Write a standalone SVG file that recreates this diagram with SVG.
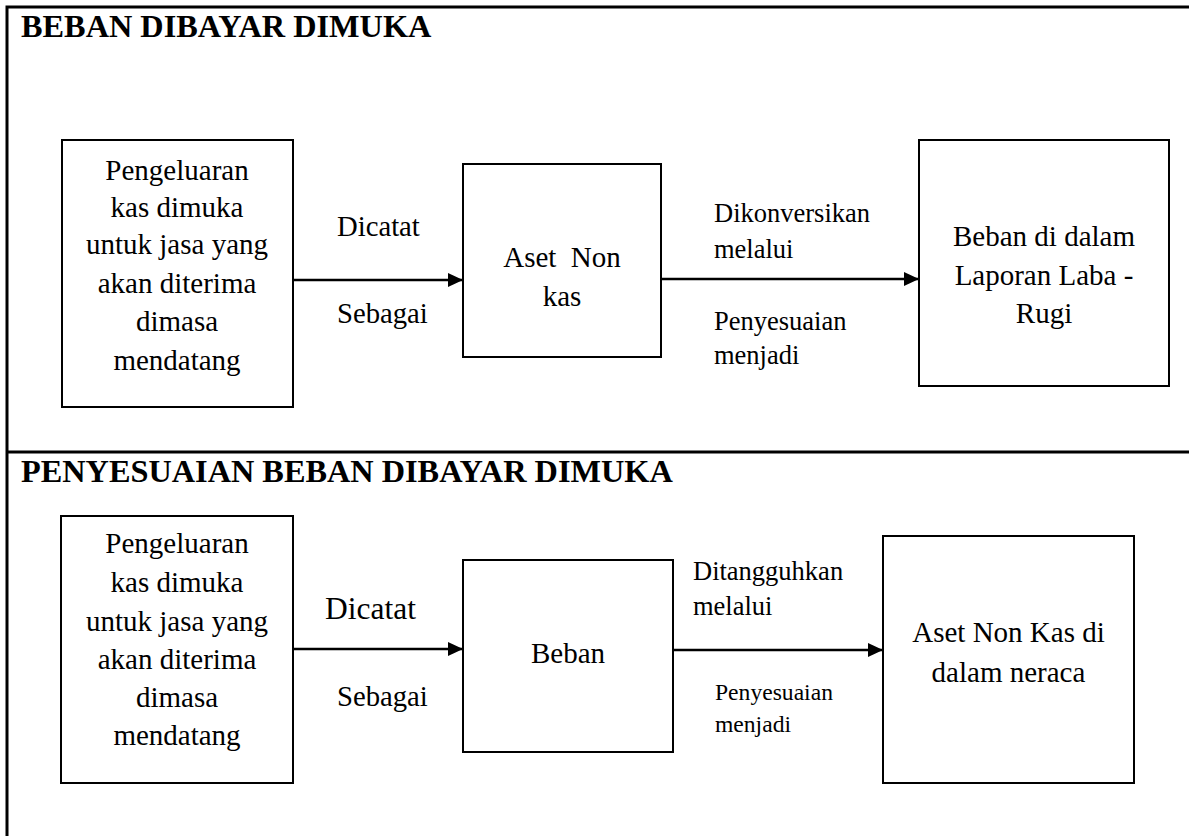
<svg xmlns="http://www.w3.org/2000/svg" width="1189" height="836" viewBox="0 0 1189 836" font-family="Liberation Serif, DejaVu Serif, serif">
<style>
text{font-family:'Liberation Serif','DejaVu Serif',serif;fill:#000}
.t{font-size:32.3px;font-weight:bold}
.n{font-size:29px;text-anchor:middle}
.l{font-size:28.7px}
.s{font-size:26.5px}
.box{fill:#fff;stroke:#000;stroke-width:2}
.frame{stroke:#000;stroke-width:3;fill:none}
.con{stroke:#000;stroke-width:2.5;fill:none;marker-end:url(#ah)}
</style>
<defs>
<marker id="ah" markerUnits="userSpaceOnUse" markerWidth="16" markerHeight="14" refX="15" refY="7" orient="auto">
<path d="M0,0 L15,7 L0,14 z" fill="#000"/>
</marker>
</defs>
<rect width="1189" height="836" fill="#fff"/>
<g id="frame">
<path class="frame" d="M7,836 V7 H1189 M7,452 H1189"/>
</g>
<g id="titles">
<text class="t" x="21" y="37">BEBAN DIBAYAR DIMUKA</text>
<text class="t" x="21" y="482">PENYESUAIAN BEBAN DIBAYAR DIMUKA</text>
</g>
<g id="connectors">
<line class="con" x1="293" y1="280" x2="463" y2="280"/>
<line class="con" x1="661" y1="279" x2="919" y2="279"/>
<line class="con" x1="293" y1="649" x2="463" y2="649"/>
<line class="con" x1="673" y1="650" x2="883" y2="650"/>
<text class="l" x="337" y="236">Dicatat</text>
<text class="l" x="337" y="323">Sebagai</text>
<text class="s" x="714" y="222">Dikonversikan</text>
<text class="s" x="714" y="258">melalui</text>
<text class="s" x="714" y="330">Penyesuaian</text>
<text class="s" x="714" y="364">menjadi</text>
<text x="325" y="619" style="font-size:31.5px">Dicatat</text>
<text class="l" x="337" y="706">Sebagai</text>
<text class="s" x="693" y="580">Ditangguhkan</text>
<text class="s" x="693" y="615">melalui</text>
<text x="715" y="700" style="font-size:23.6px">Penyesuaian</text>
<text x="715" y="732" style="font-size:23.6px">menjadi</text>
</g>
<g id="node-pengeluaran-1">
<rect class="box" x="62" y="140" width="231" height="267"/>
<text class="n" x="177" y="180">Pengeluaran</text>
<text class="n" x="177" y="217">kas dimuka</text>
<text class="n" x="177" y="254">untuk jasa yang</text>
<text class="n" x="177" y="293">akan diterima</text>
<text class="n" x="177" y="331">dimasa</text>
<text class="n" x="177" y="370">mendatang</text>
</g>
<g id="node-aset-non-kas">
<rect class="box" x="463" y="164" width="198" height="193"/>
<text class="n" x="562" y="267" xml:space="preserve">Aset  Non</text>
<text class="n" x="562" y="306">kas</text>
</g>
<g id="node-beban-laba-rugi">
<rect class="box" x="919" y="140" width="250" height="246"/>
<text class="n" x="1044" y="246">Beban di dalam</text>
<text class="n" x="1044" y="285">Laporan Laba -</text>
<text class="n" x="1044" y="323">Rugi</text>
</g>
<g id="node-pengeluaran-2">
<rect class="box" x="61" y="516" width="232" height="267"/>
<text class="n" x="177" y="553">Pengeluaran</text>
<text class="n" x="177" y="592">kas dimuka</text>
<text class="n" x="177" y="631">untuk jasa yang</text>
<text class="n" x="177" y="669">akan diterima</text>
<text class="n" x="177" y="707">dimasa</text>
<text class="n" x="177" y="745">mendatang</text>
</g>
<g id="node-beban">
<rect class="box" x="463" y="560" width="210" height="192"/>
<text class="n" x="568" y="663">Beban</text>
</g>
<g id="node-aset-neraca">
<rect class="box" x="883" y="536" width="251" height="247"/>
<text class="n" x="1008.5" y="642">Aset Non Kas di</text>
<text class="n" x="1008.5" y="682">dalam neraca</text>
</g>
</svg>
